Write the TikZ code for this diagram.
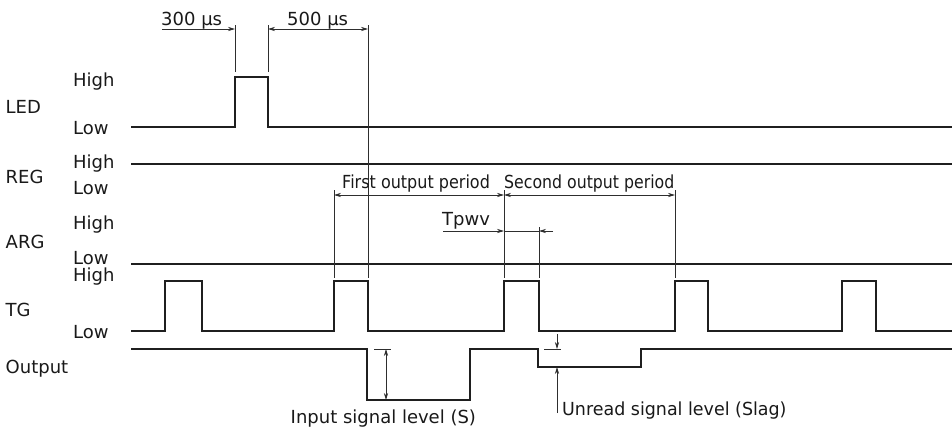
\documentclass[tikz,border=0pt]{standalone}
\usepackage{fontspec}
\setmainfont{DejaVu Sans}
\usetikzlibrary{arrows.meta}
\begin{document}
\begin{tikzpicture}[x=1pt,y=-1pt,
  wave/.style={line width=1.25pt, line join=miter, color=black!88},
  dim/.style={line width=0.75pt, color=black!82},
  arr/.style={-{Stealth[length=7pt,width=4.2pt]}},
  darr/.style={{Stealth[length=7pt,width=4.2pt]}-{Stealth[length=7pt,width=4.2pt]}},
  lbl/.style={inner sep=0pt, anchor=base west, font=\fontsize{18}{21}\selectfont, text=black!90},
]
\useasboundingbox (0,0) rectangle (952,432);

% left labels
\node[lbl] (ledH) at (73,86.5) {High};
\node[lbl] (led)  at (5.5,113.5) {LED};
\node[lbl] (ledL) at (73,134.5) {Low};
\node[lbl] (regH) at (73,168.5) {High};
\node[lbl] (reg)  at (5.5,183.5) {REG};
\node[lbl] (regL) at (73,194.5) {Low};
\node[lbl] (argH) at (73,229.5) {High};
\node[lbl] (arg)  at (5.5,248.5) {ARG};
\node[lbl] (argL) at (73,264.5) {Low};
\node[lbl] (tgH)  at (73,281.5) {High};
\node[lbl] (tg)   at (5.5,316.5) {TG};
\node[lbl] (tgL)  at (73,338.5) {Low};
\node[lbl] (out)  at (5.5,373.5) {Output};

% waveforms
\draw[wave] (131,127) -- (235,127) -- (235,77) -- (268,77) -- (268,127) -- (952,127);
\draw[wave] (131,164) -- (952,164);
\draw[wave] (131,264) -- (952,264);
\draw[wave] (131,331) -- (165,331) -- (165,281) -- (202,281) -- (202,331)
  -- (334,331) -- (334,281) -- (368,281) -- (368,331)
  -- (504,331) -- (504,281) -- (539,281) -- (539,331)
  -- (675,331) -- (675,281) -- (708,281) -- (708,331)
  -- (842,331) -- (842,281) -- (876,281) -- (876,331) -- (952,331);
\draw[wave] (131,349) -- (367,349) -- (367,400) -- (470,400) -- (470,349)
  -- (538,349) -- (538,367) -- (641,367) -- (641,349) -- (952,349);

% extension lines
\coordinate (e1t) at (235,25); \coordinate (e1b) at (235,72);
\coordinate (e2t) at (268,25); \coordinate (e2b) at (268,72);
\coordinate (e3t) at (368,25); \coordinate (e3b) at (368,278);
\coordinate (e4t) at (334,190); \coordinate (e4b) at (334,278);
\coordinate (e5t) at (504,190); \coordinate (e5b) at (504,278);
\coordinate (e6t) at (675,190); \coordinate (e6b) at (675,278);
\coordinate (e7t) at (539,227); \coordinate (e7b) at (539,278);
\draw[dim] (e1t) -- (e1b) (e2t) -- (e2b) (e3t) -- (e3b) (e4t) -- (e4b)
  (e5t) -- (e5b) (e6t) -- (e6b) (e7t) -- (e7b);

% 300 us / 500 us
\node[lbl] (t300) at (161,25.5) {300 µs};
\node[lbl] (t500) at (287,25.5) {500 µs};
\coordinate (d300s) at (162,29);
\draw[dim,arr] (d300s) -- (e1t |- d300s);
\draw[dim,darr] (e2t |- d300s) -- (e3t |- d300s);

% output periods
\node[lbl] (first) at (342,188) {\scalebox{0.89}[1]{First output period}};
\node[lbl] (second) at (504,188) {\scalebox{0.875}[1]{Second output period}};
\coordinate (dp) at (0,195);
\draw[dim,darr] (e4t |- dp) -- (e5t |- dp);
\draw[dim,darr] (e5t |- dp) -- (e6t |- dp);

% Tpwv
\node[lbl] (tpwv) at (442,225) {Tpwv};
\coordinate (tw1) at (443,231); \coordinate (tw2) at (553,231);
\draw[dim,arr] (tw1) -- (e5t |- tw1);
\draw[dim] (e5t |- tw1) -- (e7t |- tw1);
\draw[dim,arr] (tw2) -- (e7t |- tw1);

% input signal level
\coordinate (s1) at (374,349); \coordinate (s2) at (391,349);
\draw[dim] (s1) -- (s2);
\coordinate (sa) at (386,349); \coordinate (sb) at (386,400);
\draw[dim,darr] (sa) -- (sb);
\node[lbl] (inlbl) at (290.5,423.5) {Input signal level (S)};

% unread signal level
\coordinate (u1) at (544,349); \coordinate (u2) at (561,349);
\draw[dim] (u1) -- (u2);
\coordinate (ua) at (557,334); \coordinate (ub) at (557,349);
\coordinate (uc) at (557,413); \coordinate (ud) at (557,367);
\draw[dim,arr] (ua) -- (ub);
\draw[dim,arr] (uc) -- (ud);
\node[lbl] (unlbl) at (562,415) {\scalebox{0.97}[1]{Unread signal level (Slag)}};
\end{tikzpicture}
\end{document}
